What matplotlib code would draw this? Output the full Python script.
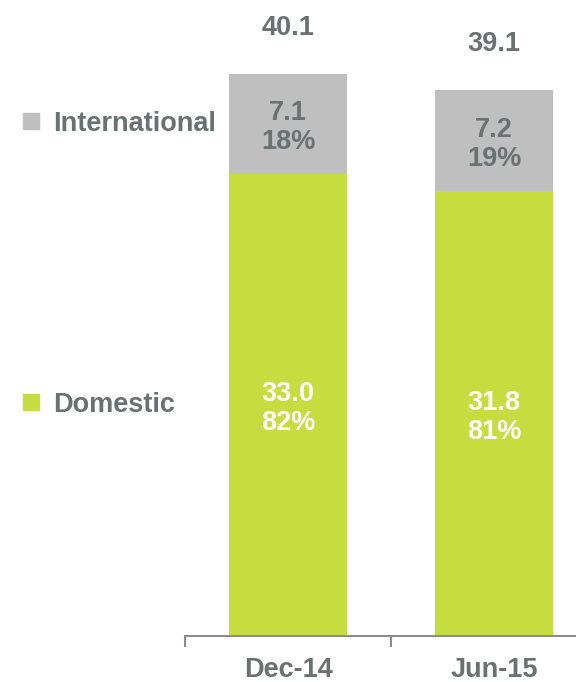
import matplotlib
matplotlib.use("Agg")
import matplotlib.pyplot as plt
from matplotlib.transforms import blended_transform_factory

periods = ["Dec-14", "Jun-15"]
domestic = [33.0, 31.8]
international = [7.1, 7.2]
totals = [40.1, 39.1]
domestic_pct = ["82%", "81%"]
international_pct = ["18%", "19%"]

GREEN = "#C5DD3E"
GREY = "#BFBFBF"
TEXT = "#6A7171"
AXIS = "#8C8C8C"
FS = 19.5
PX = 72 / 100  # points per pixel at dpi 100

plt.rcParams["font.family"] = ["Liberation Sans", "DejaVu Sans"]

W, H = 576, 682
fig = plt.figure(figsize=(W / 100, H / 100), dpi=100)
ax = fig.add_axes([185 / W, 46 / H, 1 - 185 / W, 636 / H])

x = list(range(len(periods)))
width = 0.57
ax.bar(x, domestic, width, color=GREEN, edgecolor="none")
ax.bar(x, international, width, bottom=domestic, color=GREY, edgecolor="none")


def two_line(xv, yv, top, bottom, color):
    ax.annotate(top, (xv, yv), xytext=(0, 3.5 * PX), textcoords="offset points",
                ha="center", va="baseline", color=color, fontsize=FS,
                fontweight="bold")
    ax.annotate(bottom, (xv, yv), xytext=(0, -25.5 * PX),
                textcoords="offset points", ha="center", va="baseline",
                color=color, fontsize=FS, fontweight="bold")


for i in x:
    two_line(i, domestic[i] / 2, f"{domestic[i]:.1f}", domestic_pct[i], "white")
    two_line(i, domestic[i] + international[i] / 2, f"{international[i]:.1f}",
             international_pct[i], TEXT)
    ax.annotate(f"{totals[i]:.1f}", (i, domestic[i] + international[i]),
                xytext=(0, 39 * PX), textcoords="offset points",
                ha="center", va="baseline", color=TEXT, fontsize=FS,
                fontweight="bold")

# Legend entries aligned with the segments of the first bar
tr = blended_transform_factory(fig.transFigure, ax.transData)
legend = [("International", domestic[0] + international[0] / 2, GREY),
          ("Domestic", domestic[0] / 2, GREEN)]
for label, yv, col in legend:
    ax.plot([31 / W], [yv + 2.5 / 14.0], marker="s", markersize=16 * PX,
            color=col, transform=tr, clip_on=False, linestyle="none")
    ax.annotate(label, (53 / W, yv), xycoords=tr, xytext=(0, -7.5 * PX),
                textcoords="offset points", ha="left", va="baseline",
                color=TEXT, fontsize=FS, fontweight="bold")

for s in ["top", "right", "left"]:
    ax.spines[s].set_visible(False)
ax.spines["bottom"].set_color(AXIS)
ax.spines["bottom"].set_linewidth(1.5)
ax.set_yticks([])
ax.set_xticks(x)
ax.set_xticklabels(periods, color=TEXT, fontsize=FS, fontweight="bold")
ax.tick_params(axis="x", which="major", length=0, pad=15)
ax.set_xticks([-0.5, 0.5, 1.5], minor=True)
ax.tick_params(axis="x", which="minor", length=8, width=1.5, color=AXIS,
               direction="out")

ax.set_ylim(0, 45.4)
ax.set_xlim(-0.5, 1.5 - 21 / 206)

fig.savefig("out.png", dpi=100)
